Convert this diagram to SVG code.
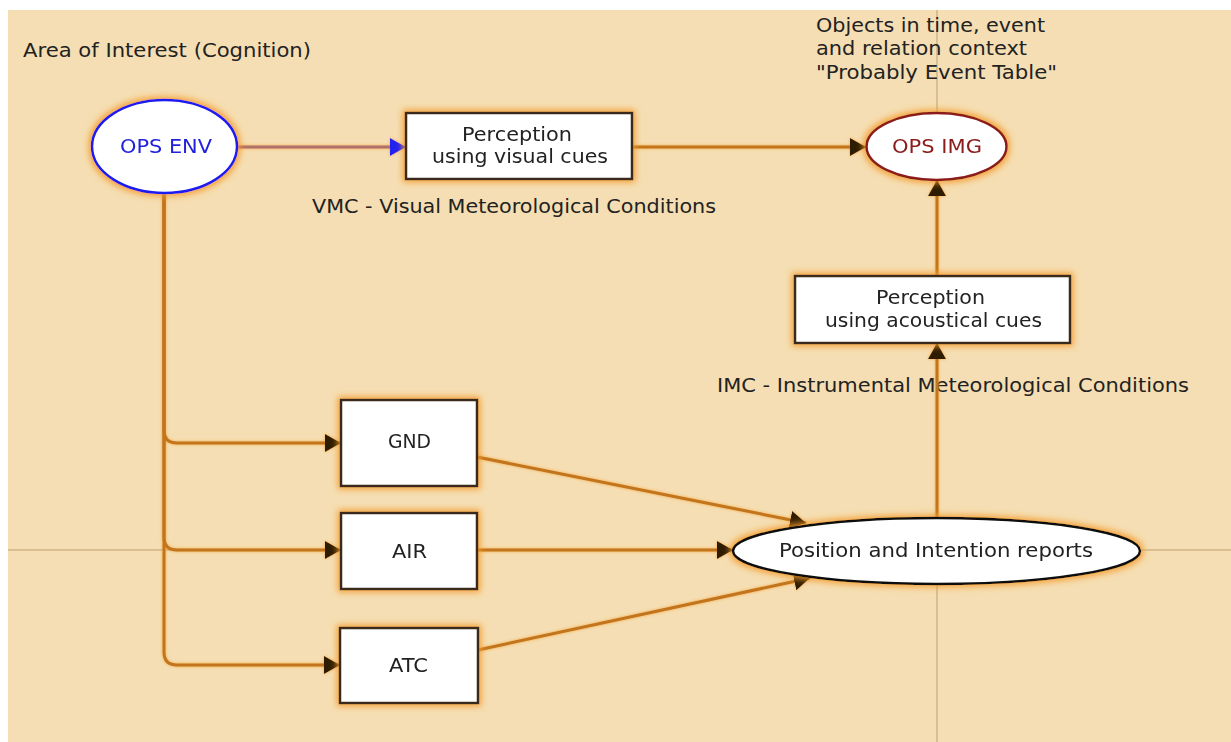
<svg xmlns="http://www.w3.org/2000/svg" width="1231" height="742" viewBox="0 0 1231 742">
<style>
text{font-family:"DejaVu Sans","Verdana",sans-serif;font-size:20px;fill:#222}
.box{fill:#fff;stroke:#3a2a1a;stroke-width:2.5}
.ell{fill:#fff;stroke-width:2.5}
.con{fill:none;stroke:#c2741a;stroke-width:3}
.guide{stroke:#d9bf8f;stroke-width:2;fill:none}
</style>
<defs>
<filter id="glow" x="-20%" y="-20%" width="140%" height="140%">
<feMorphology in="SourceAlpha" operator="dilate" radius="2" result="d"/>
<feGaussianBlur in="d" stdDeviation="3" result="b"/>
<feFlood flood-color="#f39a2a" flood-opacity="0.9"/>
<feComposite in2="b" operator="in" result="g"/>
<feMerge><feMergeNode in="g"/><feMergeNode in="SourceGraphic"/></feMerge>
</filter>
<filter id="lglow" x="0" y="0" width="1231" height="742" filterUnits="userSpaceOnUse">
<feGaussianBlur in="SourceAlpha" stdDeviation="1.5" result="b"/>
<feFlood flood-color="#f39a2a" flood-opacity="0.8"/>
<feComposite in2="b" operator="in" result="g"/>
<feMerge><feMergeNode in="g"/><feMergeNode in="SourceGraphic"/></feMerge>
</filter>
<marker id="ah" markerUnits="userSpaceOnUse" markerWidth="20" markerHeight="20" refX="16" refY="9" orient="auto">
<path d="M0,0 L16,9 L0,18 z" fill="#2e1a05"/>
</marker>
<marker id="ahb" markerUnits="userSpaceOnUse" markerWidth="20" markerHeight="20" refX="16" refY="9" orient="auto">
<path d="M0,0 L16,9 L0,18 z" fill="#2222ee"/>
</marker>
</defs>
<rect x="0" y="0" width="1231" height="742" fill="#fff"/>
<rect x="8" y="10" width="1223" height="732" fill="#f5deb3"/>
<g id="guides">
<line class="guide" x1="8" y1="550" x2="1231" y2="550"/>
<line class="guide" x1="937" y1="10" x2="937" y2="742"/>
</g>
<g id="labels">
<text x="23" y="57" textLength="288" lengthAdjust="spacingAndGlyphs">Area of Interest (Cognition)</text>
<text x="312" y="213" textLength="404" lengthAdjust="spacingAndGlyphs">VMC - Visual Meteorological Conditions</text>
<text x="816" y="32" textLength="229" lengthAdjust="spacingAndGlyphs">Objects in time, event</text>
<text x="816" y="55" textLength="211" lengthAdjust="spacingAndGlyphs">and relation context</text>
<text x="816" y="79" textLength="241" lengthAdjust="spacingAndGlyphs">"Probably Event Table"</text>
<text x="717" y="392" textLength="472" lengthAdjust="spacingAndGlyphs">IMC - Instrumental Meteorological Conditions</text>
</g>
<g id="connectors" filter="url(#lglow)">
<path class="con" d="M237,147 H406" style="stroke:#b0706a" marker-end="url(#ahb)"/>
<path class="con" d="M632,147 H866" marker-end="url(#ah)"/>
<path class="con" d="M937,276 V180" marker-end="url(#ah)"/>
<path class="con" d="M937,518 V343" marker-end="url(#ah)"/>
<path class="con" d="M164,193 V430 Q164,443 177,443 H341" marker-end="url(#ah)"/>
<path class="con" d="M164,193 V537 Q164,550 177,550 H341" marker-end="url(#ah)"/>
<path class="con" d="M164,193 V652 Q164,665 177,665 H340" marker-end="url(#ah)"/>
<path class="con" d="M477,457 L806,523" marker-end="url(#ah)"/>
<path class="con" d="M477,550 H733" marker-end="url(#ah)"/>
<path class="con" d="M478,650 L810,578" marker-end="url(#ah)"/>
</g>
<g id="ops-env" filter="url(#glow)">
<ellipse class="ell" cx="164.5" cy="146.5" rx="72.5" ry="46.5" stroke="#1a1aee"/>
<text x="120" y="153" textLength="92" lengthAdjust="spacingAndGlyphs" style="fill:#2222dd">OPS ENV</text>
</g>
<g id="perception-visual" filter="url(#glow)">
<rect class="box" x="406" y="113" width="226" height="66"/>
<text x="462" y="141" textLength="110" lengthAdjust="spacingAndGlyphs">Perception</text>
<text x="432" y="163" textLength="176" lengthAdjust="spacingAndGlyphs">using visual cues</text>
</g>
<g id="ops-img" filter="url(#glow)">
<ellipse class="ell" cx="936.5" cy="146.5" rx="70" ry="33.5" stroke="#8b1a1a"/>
<text x="892" y="153" textLength="90" lengthAdjust="spacingAndGlyphs" style="fill:#8b1a1a">OPS IMG</text>
</g>
<g id="perception-acoustical" filter="url(#glow)">
<rect class="box" x="795" y="276" width="275" height="67"/>
<text x="876" y="304" textLength="109" lengthAdjust="spacingAndGlyphs">Perception</text>
<text x="825" y="327" textLength="217" lengthAdjust="spacingAndGlyphs">using acoustical cues</text>
</g>
<g id="gnd" filter="url(#glow)">
<rect class="box" x="341" y="400" width="136" height="86"/>
<text x="388" y="448" textLength="43" lengthAdjust="spacingAndGlyphs">GND</text>
</g>
<g id="air" filter="url(#glow)">
<rect class="box" x="341" y="513" width="136" height="76"/>
<text x="392" y="558" textLength="35" lengthAdjust="spacingAndGlyphs">AIR</text>
</g>
<g id="atc" filter="url(#glow)">
<rect class="box" x="340" y="628" width="138" height="75"/>
<text x="389" y="672" textLength="39" lengthAdjust="spacingAndGlyphs">ATC</text>
</g>
<g id="position" filter="url(#glow)">
<ellipse class="ell" cx="936.5" cy="551" rx="203.5" ry="33" stroke="#111"/>
<text x="779" y="557" textLength="314" lengthAdjust="spacingAndGlyphs">Position and Intention reports</text>
</g>
</svg>
